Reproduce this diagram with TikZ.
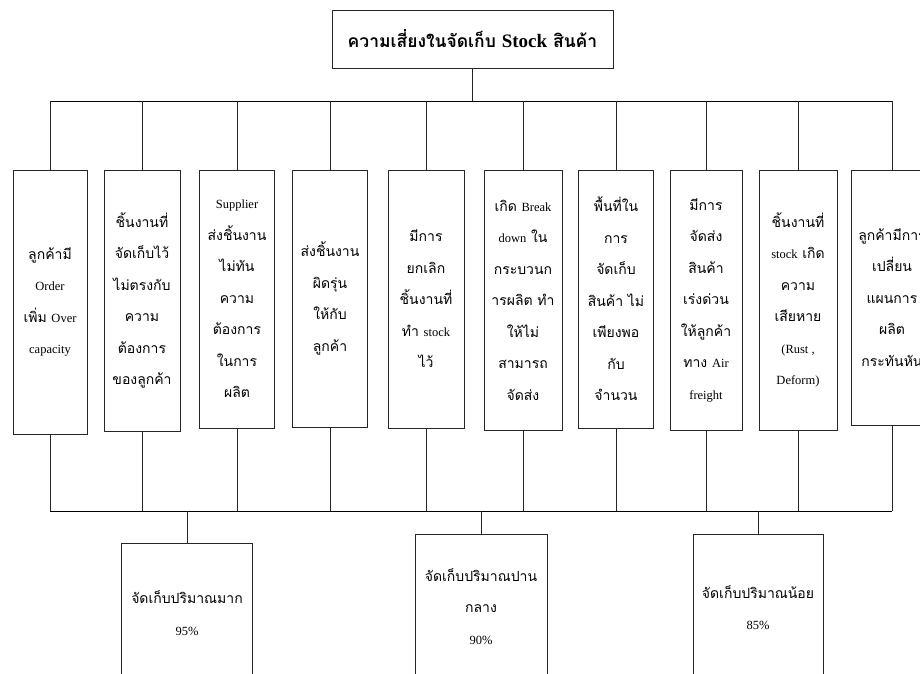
\documentclass[tikz,border=0pt]{standalone}
\usepackage{fontspec}
\setmainfont{Liberation Serif}
\newfontfamily\thaifont[Script=Thai]{Loma}
\newfontfamily\latinfont{Liberation Serif}
\newcommand\en[1]{{\latinfont\fontsize{12.5}{31.5}\selectfont #1}}
\newcommand\enb[1]{{\latinfont\bfseries\fontsize{19}{24}\selectfont #1}}
\begin{document}
\begin{tikzpicture}[x=1pt,y=-1pt,
  box/.style={draw=black!85,line width=0.8pt,fill=white,align=center,inner sep=0pt,
    font=\thaifont\fontsize{14}{31.5}\selectfont},
  bar/.style={line width=1pt,black},
  link/.style={line width=0.8pt,black!85}]
\useasboundingbox (0,0) rectangle (920,673);
\fill[white] (0,0) rectangle (920,673);
% title
\node[box,minimum width=281pt,minimum height=58pt,font=\thaifont\bfseries\fontsize{17.5}{24}\selectfont] (title) at (472.5,39) {ความเสี่ยงในจัดเก็บ \enb{Stock} สินค้า};
\coordinate (tb) at (0,101);
\coordinate (bb) at (0,511);
% risk boxes
\node[box,minimum width=74pt,minimum height=264pt] (b1) at (50,302) {ลูกค้ามี\\\en{Order}\\เพิ่ม \en{Over}\\\en{capacity}};
\node[box,minimum width=76pt,minimum height=261pt] (b2) at (142,300.5) {ชิ้นงานที่\\จัดเก็บไว้\\ไม่ตรงกับ\\ความ\\ต้องการ\\ของลูกค้า};
\node[box,minimum width=75pt,minimum height=258pt] (b3) at (237,299) {\en{Supplier}\\ส่งชิ้นงาน\\ไม่ทัน\\ความ\\ต้องการ\\ในการ\\ผลิต};
\node[box,minimum width=75pt,minimum height=257pt] (b4) at (330,298.5) {ส่งชิ้นงาน\\ผิดรุ่น\\ให้กับ\\ลูกค้า};
\node[box,minimum width=76pt,minimum height=258pt] (b5) at (426,299) {มีการ\\ยกเลิก\\ชิ้นงานที่\\ทำ \en{stock}\\ไว้};
\node[box,minimum width=78pt,minimum height=260pt] (b6) at (523,300) {เกิด \en{Break}\\\en{down} ใน\\กระบวนก\\ารผลิต ทำ\\ให้ไม่\\สามารถ\\จัดส่ง};
\node[box,minimum width=75pt,minimum height=258pt] (b7) at (616,299) {พื้นที่ใน\\การ\\จัดเก็บ\\สินค้า ไม่\\เพียงพอ\\กับ\\จำนวน};
\node[box,minimum width=72pt,minimum height=260pt] (b8) at (706,300) {มีการ\\จัดส่ง\\สินค้า\\เร่งด่วน\\ให้ลูกค้า\\ทาง \en{Air}\\\en{freight}};
\node[box,minimum width=78pt,minimum height=260pt] (b9) at (798,300) {ชิ้นงานที่\\\en{stock} เกิด\\ความ\\เสียหาย\\\en{(Rust ,}\\\en{Deform)}};
\node[box,minimum width=82pt,minimum height=255pt] (b10) at (892,297.5) {ลูกค้ามีการ\\เปลี่ยน\\แผนการ\\ผลิต\\กระทันหัน};
% result boxes
\node[box,minimum width=131pt,minimum height=140pt] (r1) at (187,613) {จัดเก็บปริมาณมาก\\\en{95\%}};
\node[box,minimum width=132pt,minimum height=145pt] (r2) at (481,606.5) {จัดเก็บปริมาณปาน\\กลาง\\\en{90\%}};
\node[box,minimum width=130pt,minimum height=147pt] (r3) at (758,607.5) {จัดเก็บปริมาณน้อย\\\en{85\%}};
% bars
\draw[bar] (b1.north |- tb) -- (b10.north |- tb);
\draw[bar] (b1.south |- bb) -- (b10.south |- bb);
\draw[link] (title.south) -- (title.south |- tb);
\foreach \b in {b1,b2,b3,b4,b5,b6,b7,b8,b9,b10}{
  \draw[link] (\b.north) -- (\b.north |- tb);
  \draw[link] (\b.south) -- (\b.south |- bb);
}
\foreach \r in {r1,r2,r3}{
  \draw[link] (\r.north) -- (\r.north |- bb);
}
\end{tikzpicture}
\end{document}
